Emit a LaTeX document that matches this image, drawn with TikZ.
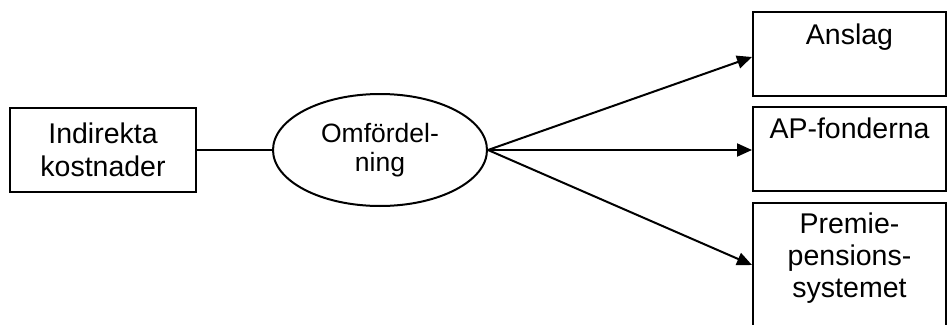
\documentclass[tikz,border=0pt]{standalone}
\usepackage{fontspec}
\setmainfont{Liberation Sans}
\usetikzlibrary{arrows.meta,shapes.geometric}
\begin{document}
\begin{tikzpicture}[x=1pt,y=-1pt,
  lw/.style={line width=2pt},
  box/.style={draw, lw, rectangle, inner sep=0pt, align=center,
    font=\fontsize{28.5}{32.5}\selectfont},
  oval/.style={draw, lw, ellipse, inner sep=0pt, align=center,
    minimum width=214pt, minimum height=112pt,
    font=\fontsize{26.5}{29}\selectfont},
  boxtext/.style={anchor=base, align=center, inner sep=0pt,
    font=\fontsize{28.5}{32}\selectfont},
  arr/.style={lw, -{Triangle[length=15pt,width=13pt]}}
]
\useasboundingbox (0,0) rectangle (947,324);

\node[box, minimum width=186pt, minimum height=84pt] (ind) at (103,150) {Indirekta\\kostnader};
\node[oval] (omf) at (380,150) {Omfördel-\\ning};

\node[box, minimum width=193pt, minimum height=84pt] (ans) at (849.5,54) {};
\node[box, minimum width=193pt, minimum height=84pt] (apf) at (849.5,149) {};
\node[box, minimum width=193pt, minimum height=142pt] (pps) at (849.5,274) {};

\node[boxtext] (tans) at (849.5,44) {Anslag};
\node[boxtext] (tapf) at (849.5,138) {AP-fonderna};
\node[boxtext] (tpps) at (849.5,297) {Premie-\\pensions-\\systemet};

\draw[lw] (ind.east) -- (omf.west);
\coordinate (src) at (omf.east);
\draw[arr] (src) -- (ans.west |- 0,57);
\draw[arr] (src) -- (src -| apf.west);
\draw[arr] (src) -- (pps.west |- 0,265);
\end{tikzpicture}
\end{document}
